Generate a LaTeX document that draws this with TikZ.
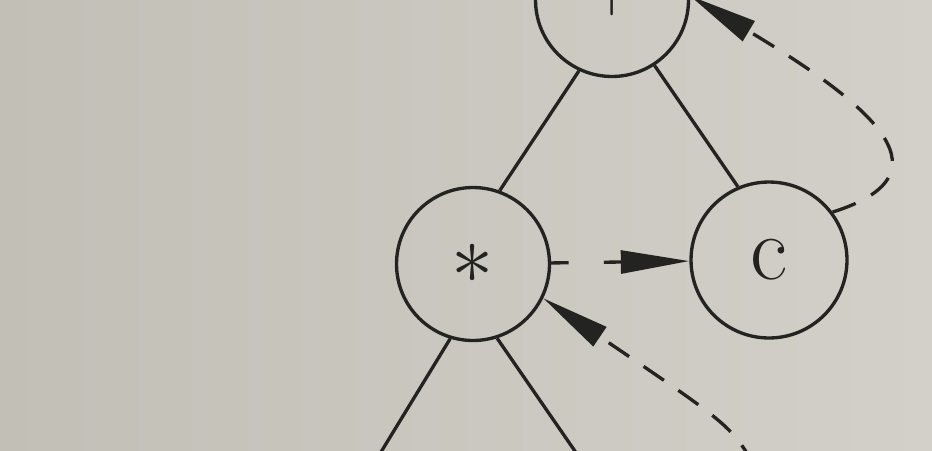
\documentclass[tikz,border=0pt]{standalone}
\usepackage{graphicx}
\usepackage{tikz}
\usetikzlibrary{arrows.meta}
\definecolor{paper}{RGB}{194,191,183}
\definecolor{paperlt}{RGB}{210,208,200}
\definecolor{ink}{RGB}{35,35,33}
\newcommand{\bigop}[2]{\scalebox{#1}{\fontsize{10}{12}\selectfont$#2$}}

\begin{document}
\begin{tikzpicture}[
    x=0.02cm, y=-0.02cm,
    font=\fontsize{52}{56}\selectfont,
    opnode/.style={draw=ink, circle, line width=1.9pt, minimum size=3.06cm,
                   inner sep=0pt, text=ink},
    edge/.style={draw=ink, line width=1.9pt},
    thread/.style={edge, dash pattern=on 14pt off 10pt,
                   -{Triangle[length=39pt,width=13pt]}}
]
  \useasboundingbox (0,0) rectangle (932,450);
  \shade[left color=paper, right color=paperlt] (0,0) rectangle (932,450);
  \clip (0,0) rectangle (932,450);

  \node[opnode] (plus) at (612,0) {\raisebox{9pt}{\bigop{3.6}{+}}};
  \node[opnode] (times) at (473,264) {\bigop{4.8}{\ast}};
  \node[opnode, minimum size=3.12cm] (cvar) at (769,260) {c};

  % free ends of the subtrees below the picture
  \coordinate (lkid) at (370,470);
  \coordinate (rkid) at (588,470);
  \coordinate (bthr) at (755,466);

  \draw[edge] (plus.245) -- (times.70);
  \draw[edge] (plus.-57) -- (cvar.113);
  \draw[edge] (times.-107) -- (lkid);
  \draw[edge] (times.-72) -- (rkid);

  \draw[thread, dash pattern=on 10pt off 20pt] (times) -- (cvar);
  \draw[thread] (cvar.37) .. controls (950,175) and (880,110) .. (plus.3);
  \draw[thread] (bthr) .. controls (730,425) .. (times.-26);
\end{tikzpicture}
\end{document}
